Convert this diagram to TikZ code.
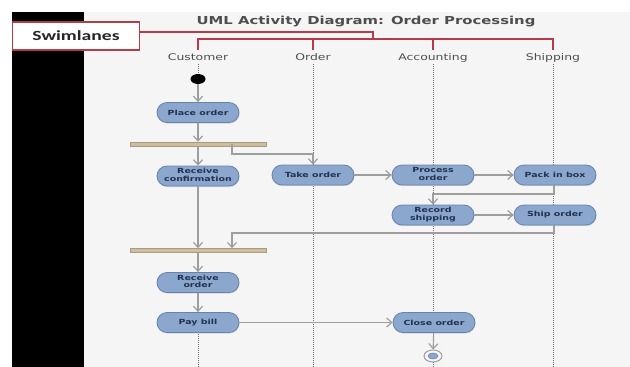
\documentclass[tikz,border=0pt]{standalone}
\usepackage{fontspec}
\setmainfont{DejaVu Sans}
\newfontfamily\tagfont{Carlito}
\usepackage{graphicx}
\usetikzlibrary{arrows.meta,shadows,shapes.geometric}

\definecolor{paper}{HTML}{F5F5F5}
\definecolor{actfill}{HTML}{8CA7CE}
\definecolor{actline}{HTML}{6683B0}
\definecolor{acttext}{HTML}{22324F}
\definecolor{flowgrey}{HTML}{9E9E9E}
\definecolor{barfill}{HTML}{CDBE9F}
\definecolor{barline}{HTML}{A99B82}
\definecolor{lanered}{HTML}{B83A48}
\definecolor{headtext}{HTML}{4E4E4E}
\definecolor{lanegrey}{HTML}{6E6E6E}

% wide lettering used throughout the sheet
\newcommand\widetext[1]{\scalebox{1.35}[1]{#1}}
\newcommand\twoline[2]{\widetext{\begin{tabular}{@{}c@{}}#1\\#2\end{tabular}}}

\begin{document}
\begin{tikzpicture}[x=1pt,y=-1pt,
  act/.style={rectangle, rounded corners=10pt, minimum width=82pt, minimum height=20pt,
    inner sep=0pt, fill=actfill, draw=actline, line width=0.8pt, text=acttext,
    font=\bfseries\fontsize{7}{7.4}\selectfont,
    drop shadow={shadow xshift=0.5pt, shadow yshift=-1.2pt, opacity=0.25}},
  syncbar/.style={rectangle, minimum width=136pt, minimum height=4pt, inner sep=0pt,
    fill=barfill, draw=barline, line width=0.5pt},
  flow/.style={draw=flowgrey, line width=1.2pt, -{Straight Barb[length=5pt,width=9pt]}},
  lane/.style={draw=lanegrey, line width=1pt, dash pattern=on 1pt off 1pt},
  lanehead/.style={text=headtext, font=\fontsize{9.2}{10}\selectfont, inner sep=3pt,
    text height=7pt, text depth=0pt},
  redline/.style={draw=lanered, line width=1.2pt},
]
\useasboundingbox (0,0) rectangle (630,367);
\fill[white] (0,0) rectangle (630,367);
\fill[paper] (84,12) rectangle (630,367);
\fill[black] (12,12) rectangle (84,367);

% title and lane headers
\node[text=headtext, font=\bfseries\fontsize{11}{12}\selectfont] (title) at (366,22)
  {\widetext{UML Activity Diagram: Order Processing}};
\node[lanehead] (hcust) at (198,56.5) {\widetext{Customer}};
\node[lanehead] (hord)  at (313,56.5) {\widetext{Order}};
\node[lanehead] (hacc)  at (433,56.5) {\widetext{Accounting}};
\node[lanehead] (hship) at (553,56.5) {\widetext{Shipping}};

% swimlane dividers
\draw[lane] (198,64) -- (198,367);
\draw[lane] (313,64) -- (313,367);
\draw[lane] (433,64) -- (433,367);
\draw[lane] (553,64) -- (553,367);

% swimlanes callout
\node[rectangle, fill=white, draw=lanered, line width=1.2pt, minimum width=127pt,
  minimum height=28pt, inner sep=0pt, font=\tagfont\bfseries\fontsize{14}{16}\selectfont,
  text=black!85] (tag) at (76,36) {\scalebox{1.4}[1]{Swimlanes}};
\coordinate (rtop) at (373,32);
\coordinate (rbar) at (373,39);
\draw[redline] (tag.east |- rtop) -- (rtop) -- (rbar);
\draw[redline] (hcust.north) |- (rbar) -| (hship.north);
\draw[redline] (hord.north) -- (hord.north |- rbar);
\draw[redline] (hacc.north) -- (hacc.north |- rbar);

% activities
\node[ellipse, fill=black, minimum width=15pt, minimum height=10pt, inner sep=0pt] (start) at (198,79) {};
\node[act] (place) at (198,112.5) {\widetext{Place order}};
\node[syncbar] (fork) at (198,144) {};
\node[act] (rconf) at (198,176) {\twoline{Receive}{confirmation}};
\node[act] (take)  at (313,175) {\widetext{Take order}};
\node[act] (proc)  at (433,175) {\twoline{Process}{order}};
\node[act] (pack)  at (555,175) {\widetext{Pack in box}};
\node[act] (rship) at (433,215) {\twoline{Record}{shipping}};
\node[act] (ship)  at (555,215) {\widetext{Ship order}};
\node[syncbar] (join) at (198,250.5) {};
\node[act] (rord)  at (198,282.5) {\twoline{Receive}{order}};
\node[act] (pay)   at (198,322.5) {\widetext{Pay bill}};
\node[act] (close) at (434,322.5) {\widetext{Close order}};
\node[ellipse, draw=flowgrey, line width=1pt, fill=paper, minimum width=18pt, minimum height=12pt, inner sep=0pt] (finish) at (433,356) {};
\node[ellipse, fill=actfill, draw=actline, line width=0.5pt, minimum width=10pt, minimum height=6pt, inner sep=0pt] (finishdot) at (433,356) {};

% control flow
\coordinate (forkout) at (232,144);
\coordinate (bend1) at (313,154);
\coordinate (bend2) at (433,194);
\coordinate (bend3) at (232,233);
\draw[flow] (start) -- (place);
\draw[flow] (place) -- (fork);
\draw[flow] (fork) -- (rconf);
\draw[flow] (forkout) |- (bend1) -- (take);
\draw[flow] (take) -- (proc);
\draw[flow] (proc) -- (pack);
\draw[flow] (pack.south -| 554,0) |- (bend2) -- (rship);
\draw[flow] (rship) -- (ship);
\draw[flow] (ship.south -| 554,0) |- (bend3) -- (bend3 |- join.north);
\draw[flow] (rconf) -- (join);
\draw[flow] (join) -- (rord);
\draw[flow] (rord) -- (pay);
\draw[flow] (pay) -- (close);
\draw[flow] (close) -- (finish);
\end{tikzpicture}
\end{document}
